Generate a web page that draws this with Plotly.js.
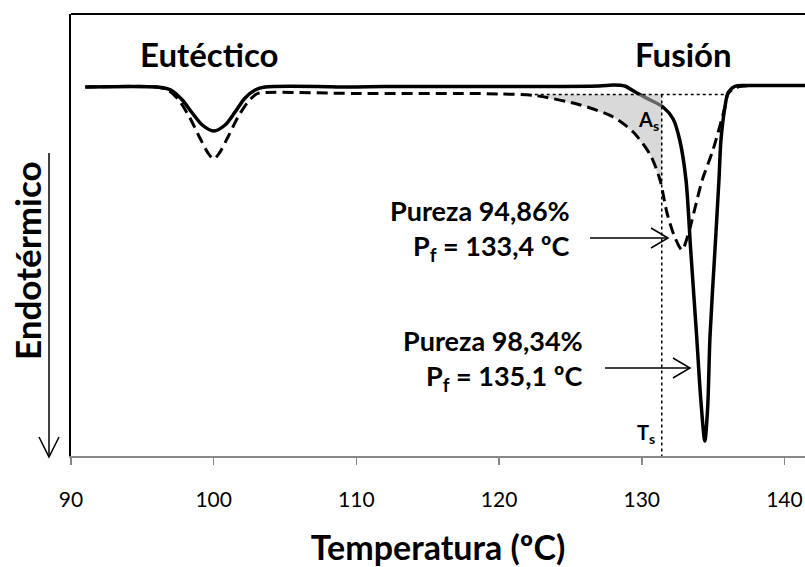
<!DOCTYPE html>
<html><head><meta charset="utf-8">
<script src="https://cdn.plot.ly/plotly-3.0.1.min.js"></script>
<style>html,body{margin:0;padding:0;background:#fff}#chart{width:805px;height:567px}</style>
</head><body><div id="chart"></div>
<script>
// ---- Data (temperature in ºC, heat flow in arbitrary units, endothermic downwards) ----
const tempPure = [91.0, 96.0, 97.0, 97.8, 98.5, 99.2, 100.0, 100.8, 101.5, 102.2, 102.9, 103.6, 110.0, 112.0, 120.0, 127.0, 128.0, 128.8, 129.66, 130.6, 131.49, 132.2, 132.66, 133.10, 133.43, 133.85, 134.15, 134.42, 134.62, 134.78, 135.13, 135.41, 135.55, 135.83, 136.04, 136.5, 137.2, 138.1, 141.5];
const heatPure = [0, 0, -0.3, -1.3, -2.6, -3.8, -4.4, -3.8, -2.5, -1.1, -0.3, 0, 0, 0.05, 0.05, 0.1, 0.2, 0.1, -0.6, -1.3, -2.0, -3.2, -5.3, -9.3, -16.3, -25, -31.5, -35.4, -32, -25, -16.3, -9.3, -5.3, -2.0, -0.6, 0.05, 0.15, 0.15, 0.15];

const tempImpure = [91.0, 96.0, 96.8, 97.5, 98.3, 99.0, 99.6, 100.0, 100.4, 101.0, 101.7, 102.4, 103.0, 103.6, 110.0, 118.0, 120.0, 122.5, 125.7, 128.0, 129.4, 130.6, 131.28, 131.77, 132.31, 132.82, 133.24, 133.87, 134.24, 134.99, 135.83, 136.04, 136.5, 137.2, 138.1, 141.5];
const heatImpure = [0, 0, -0.3, -1.2, -3.0, -5.0, -6.6, -7.2, -6.6, -5.0, -3.0, -1.5, -0.7, -0.55, -0.65, -0.65, -0.7, -0.85, -1.8, -3.0, -4.5, -6.8, -9.3, -12.6, -15.0, -16.3, -14.8, -11.3, -9.3, -6.3, -2.0, -0.7, -0.1, 0.1, 0.15, 0.15];

const xTickVals = [90, 100, 110, 120, 130, 140];
const xTickText = ['90', '100', '110', '120', '130', '140'];

const Ts = 131.4;            // onset temperature T_s
const shadeStart = 122.5;    // start of partial area A_s
const baseLevel = -0.75;     // extrapolated baseline
const baseEnd = 136.04;      // end of dotted baseline

const labelPeak1 = ['Pureza 94,86%', 'P<sub>f</sub> = 133,4 ºC'];
const labelPeak2 = ['Pureza 98,34%', 'P<sub>f</sub> = 135,1 ºC'];

// ---- Layout constants ----
const X_RANGE = [90, 141.44];
const Y_RANGE = [-36.9, 7.3];
const M = {l: 71, r: 0, t: 14, b: 111};
const W = 805, H = 567;
const PW = W - M.l - M.r, PH = H - M.t - M.b;
const dx = px => px * (X_RANGE[1] - X_RANGE[0]) / PW;   // pixel -> data offsets
const dy = px => px * (Y_RANGE[1] - Y_RANGE[0]) / PH;

function interp(xs, ys, x) {
  for (let i = 1; i < xs.length; i++) {
    if (x <= xs[i]) {
      const t = (x - xs[i-1]) / (xs[i] - xs[i-1]);
      return ys[i-1] + t * (ys[i] - ys[i-1]);
    }
  }
  return ys[ys.length - 1];
}

// shaded area polygon between impure curve and baseline, from shadeStart to Ts
const shadeX = [shadeStart], shadeY = [baseLevel];
shadeX.push(Ts); shadeY.push(baseLevel);
shadeX.push(Ts); shadeY.push(interp(tempImpure, heatImpure, Ts));
for (let i = tempImpure.length - 1; i >= 0; i--) {
  if (tempImpure[i] < Ts && tempImpure[i] > shadeStart) { shadeX.push(tempImpure[i]); shadeY.push(heatImpure[i]); }
}
shadeX.push(shadeStart); shadeY.push(interp(tempImpure, heatImpure, shadeStart));

const BOLD = 'Lato, "Open Sans", sans-serif';

const traces = [
  {x: tempPure, y: heatPure, mode: 'lines', line: {color: '#000', width: 3.5, shape: 'spline', smoothing: 0.8}, hoverinfo: 'skip'},
  {x: shadeX, y: shadeY, mode: 'lines', fill: 'toself', fillcolor: 'rgba(185,185,185,0.55)', line: {width: 0}, hoverinfo: 'skip'},
  {x: tempImpure, y: heatImpure, mode: 'lines', line: {color: '#000', width: 3, dash: '11px,6px', shape: 'spline', smoothing: 0.8}, hoverinfo: 'skip'}
];

function chevronRight(xTip, yTip) {
  return {type: 'path', xref: 'x', yref: 'y',
    path: `M ${xTip - dx(17)},${yTip + dy(10)} L ${xTip},${yTip} L ${xTip - dx(17)},${yTip - dy(10)}`,
    line: {color: '#000', width: 1.5}};
}
function hArrow(xTail, xTip, yv) {
  return [
    {type: 'line', xref: 'x', yref: 'y', x0: xTail, x1: xTip, y0: yv, y1: yv, line: {color: '#000', width: 1.5}},
    chevronRight(xTip, yv)
  ];
}

const shapes = [
  // top border
  {type: 'line', xref: 'paper', yref: 'paper', x0: 0, x1: 1.01, y0: 1, y1: 1, line: {color: '#000', width: 2}},
  // dotted baseline & T_s line
  {type: 'line', xref: 'x', yref: 'y', x0: shadeStart, x1: baseEnd, y0: baseLevel, y1: baseLevel, line: {color: '#000', width: 1.5, dash: 'dot'}},
  {type: 'line', xref: 'x', yref: 'y', x0: Ts, x1: Ts, y0: baseLevel, y1: Y_RANGE[0], line: {color: '#000', width: 1.5, dash: 'dot'}},
  ...hArrow(126.37, 131.84, -15.1),
  ...hArrow(127.42, 133.38, -28.1),
  // endothermic arrow on the left
  {type: 'line', xref: 'paper', yref: 'paper', x0: -22/PW, x1: -22/PW, y0: (456-153)/PH, y1: (456-457)/PH, line: {color: '#000', width: 1.5}},
  {type: 'path', xref: 'paper', yref: 'paper',
   path: `M ${-32/PW},${(456-437)/PH} L ${-22/PW},${(456-457)/PH} L ${-12/PW},${(456-437)/PH}`,
   line: {color: '#000', width: 1.5}}
];

const ann = (text, x, y, size, xanchor) => ({
  text, x, y, xref: 'x', yref: 'y', showarrow: false, xanchor: xanchor || 'center', yanchor: 'middle',
  font: {family: BOLD, size, color: '#000'}
});

const annotations = [
  ann('<b>Eutéctico</b>', 99.74, 3.3, 33),
  ann('<b>Fusión</b>', 132.89, 3.3, 33),
  ann('<b>' + labelPeak1[0] + '</b>', 125.11, -12.3, 27, 'right'),
  ann('<b>' + labelPeak1[1] + '</b>', 125.11, -16.0, 27, 'right'),
  ann('<b>' + labelPeak2[0] + '</b>', 126.02, -25.3, 27, 'right'),
  ann('<b>' + labelPeak2[1] + '</b>', 126.02, -29.0, 27, 'right'),
  ann('<b>A<sub>s</sub></b>', 130.5, -3.3, 20),
  ann('<b>T<sub>s</sub></b>', 130.3, -34.6, 20),
  {text: '<b>Endotérmico</b>', xref: 'paper', yref: 'paper', x: -44/PW, y: (456-261)/PH, textangle: -90,
   showarrow: false, xanchor: 'center', yanchor: 'middle', font: {family: BOLD, size: 35, color: '#000'}}
];

const layout = {
  width: W, height: H, margin: M, paper_bgcolor: '#fff', plot_bgcolor: '#fff', showlegend: false,
  xaxis: {range: X_RANGE, tickvals: xTickVals, ticktext: xTickText, showgrid: false, zeroline: false,
    showline: true, linecolor: '#888', linewidth: 2, ticks: 'outside', ticklen: 7, tickcolor: '#888', tickwidth: 1.5,
    tickfont: {family: 'Lato, sans-serif', size: 21, color: '#000'}, ticklabelstandoff: 17,
    title: {text: '<b>Temperatura (ºC)</b>', font: {family: BOLD, size: 34, color: '#000'}, standoff: 27}},
  yaxis: {range: Y_RANGE, showgrid: false, zeroline: false, showticklabels: false, ticks: '',
    showline: true, linecolor: '#000', linewidth: 2},
  shapes, annotations
};

Plotly.newPlot('chart', traces, layout, {staticPlot: true});
</script></body></html>
